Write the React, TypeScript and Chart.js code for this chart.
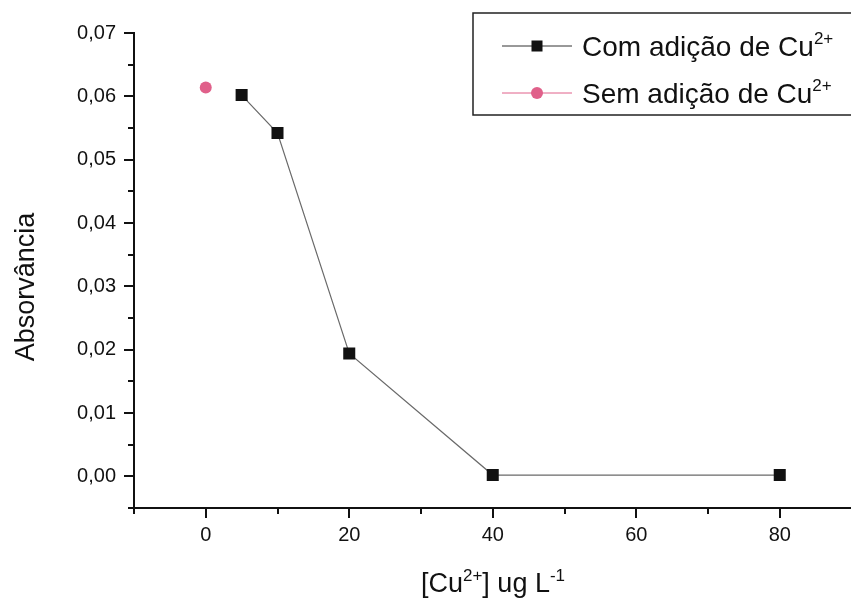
import React, { useEffect, useRef } from 'react';
import { Chart, registerables } from 'chart.js';
Chart.register(...registerables);

const concentrationsWith = [5, 10, 20, 40, 80];
const absorbanceWith = [0.0602, 0.0542, 0.0194, 0.0002, 0.0002];
const concentrationsWithout = [0];
const absorbanceWithout = [0.0614];
const xMajorTicks = [0, 20, 40, 60, 80];
const xMinorTicks = [-10, 10, 30, 50, 70, 90];
const yMajorTicks = [0, 0.01, 0.02, 0.03, 0.04, 0.05, 0.06, 0.07];
const yMinorTicks = [-0.005, 0.005, 0.015, 0.025, 0.035, 0.045, 0.055, 0.065];
const seriesLabels = ['Com adição de Cu', 'Sem adição de Cu'];
const seriesSup = '2+';
const yTitle = 'Absorvância';
const xTitleParts = [
  { t: '[Cu', s: false },
  { t: '2+', s: true },
  { t: '] ug L', s: false },
  { t: '-1', s: true },
];

const FONT = '"Liberation Sans", Arial, sans-serif';
const SQUARE_COLOR = '#111111';
const LINE_COLOR = '#6a6a6a';
const PINK = '#e0608a';

function drawRich(ctx: CanvasRenderingContext2D, parts: { t: string; s: boolean }[], x: number, y: number, size: number, align: 'left' | 'center') {
  const supSize = Math.round(size * 0.62);
  let total = 0;
  const widths = parts.map((p) => {
    ctx.font = `${p.s ? supSize : size}px ${FONT}`;
    const w = ctx.measureText(p.t).width;
    total += w;
    return w;
  });
  let cx = align === 'center' ? x - total / 2 : x;
  ctx.textAlign = 'left';
  ctx.textBaseline = 'alphabetic';
  parts.forEach((p, i) => {
    ctx.font = `${p.s ? supSize : size}px ${FONT}`;
    ctx.fillText(p.t, cx, p.s ? y - size * 0.42 : y);
    cx += widths[i];
  });
}

const decorPlugin = {
  id: 'decor',
  afterDraw(chart: any) {
    const ctx: CanvasRenderingContext2D = chart.ctx;
    const xs = chart.scales.x;
    const ys = chart.scales.y;
    const area = chart.chartArea;
    ctx.save();
    ctx.strokeStyle = '#111';
    ctx.lineWidth = 2;
    ctx.beginPath();
    yMajorTicks.forEach((v) => {
      const py = Math.round(ys.getPixelForValue(v));
      ctx.moveTo(area.left - 10, py);
      ctx.lineTo(area.left, py);
    });
    yMinorTicks.forEach((v) => {
      const py = Math.round(ys.getPixelForValue(v));
      ctx.moveTo(area.left - 6, py);
      ctx.lineTo(area.left, py);
    });
    xMajorTicks.forEach((v) => {
      const px = Math.round(xs.getPixelForValue(v));
      ctx.moveTo(px, area.bottom);
      ctx.lineTo(px, area.bottom + 10);
    });
    xMinorTicks.forEach((v) => {
      const px = Math.round(xs.getPixelForValue(v));
      ctx.moveTo(px, area.bottom);
      ctx.lineTo(px, area.bottom + 6);
    });
    ctx.stroke();

    ctx.fillStyle = '#111';
    // y title
    ctx.save();
    ctx.translate(27, 287);
    ctx.rotate(-Math.PI / 2);
    ctx.font = `27px ${FONT}`;
    ctx.textAlign = 'center';
    ctx.textBaseline = 'middle';
    ctx.fillText(yTitle, 0, 0);
    ctx.restore();

    // x title
    drawRich(ctx, xTitleParts, 493, 592, 27, 'center');

    // legend
    ctx.lineWidth = 1.5;
    ctx.strokeStyle = '#222';
    ctx.strokeRect(473, 13, 420, 102);
    const rows = [
      { y: 46, line: '#333', color: SQUARE_COLOR, style: 'rect' },
      { y: 93, line: PINK, color: PINK, style: 'circle' },
    ];
    rows.forEach((r, i) => {
      ctx.strokeStyle = r.line;
      ctx.lineWidth = 1;
      ctx.beginPath();
      ctx.moveTo(502, r.y);
      ctx.lineTo(572, r.y);
      ctx.stroke();
      ctx.fillStyle = r.color;
      if (r.style === 'rect') {
        ctx.fillRect(537 - 5.5, r.y - 5.5, 11, 11);
      } else {
        ctx.beginPath();
        ctx.arc(537, r.y, 6, 0, Math.PI * 2);
        ctx.fill();
      }
      ctx.fillStyle = '#111';
      drawRich(ctx, [{ t: seriesLabels[i], s: false }, { t: seriesSup, s: true }], 582, r.y + 10, 28, 'left');
    });
    ctx.restore();
  },
};

export default function App() {
  const ref = useRef<HTMLCanvasElement | null>(null);
  useEffect(() => {
    if (!ref.current) return;
    const chart = new Chart(ref.current, {
      type: 'line',
      data: {
        datasets: [
          {
            label: seriesLabels[0],
            data: concentrationsWith.map((x, i) => ({ x, y: absorbanceWith[i] })),
            borderColor: LINE_COLOR,
            borderWidth: 1.2,
            pointStyle: 'rect',
            pointRadius: 8.5,
            pointHoverRadius: 8.5,
            pointBackgroundColor: SQUARE_COLOR,
            pointBorderColor: SQUARE_COLOR,
            pointBorderWidth: 0,
            tension: 0,
          },
          {
            label: seriesLabels[1],
            data: concentrationsWithout.map((x, i) => ({ x, y: absorbanceWithout[i] })),
            borderColor: PINK,
            borderWidth: 1,
            pointStyle: 'circle',
            pointRadius: 6,
            pointHoverRadius: 6,
            pointBackgroundColor: PINK,
            pointBorderColor: PINK,
            pointBorderWidth: 0,
          },
        ],
      },
      options: {
        responsive: false,
        animation: false,
        devicePixelRatio: 1,
        layout: { padding: { top: 33, right: 0, left: 0, bottom: 0 } },
        plugins: { legend: { display: false }, tooltip: { enabled: false }, title: { display: false } },
        scales: {
          x: {
            type: 'linear',
            min: -10,
            max: 90,
            grid: { display: false },
            border: { display: true, color: '#111', width: 2 },
            afterBuildTicks: (s: any) => {
              s.ticks = xMajorTicks.map((v) => ({ value: v }));
            },
            afterFit: (s: any) => {
              s.height = 91;
            },
            ticks: {
              color: '#111',
              padding: 7,
              maxRotation: 0,
              font: { family: FONT, size: 20 },
              callback: (v: any) => String(v),
            },
          },
          y: {
            type: 'linear',
            min: -0.005,
            max: 0.07,
            grid: { display: false },
            border: { display: true, color: '#111', width: 2 },
            afterBuildTicks: (s: any) => {
              s.ticks = yMajorTicks.map((v) => ({ value: v }));
            },
            afterFit: (s: any) => {
              s.width = 134;
            },
            ticks: {
              color: '#111',
              padding: 10,
              font: { family: FONT, size: 20 },
              callback: (v: any) => Number(v).toFixed(2).replace('.', ','),
            },
          },
        },
      },
      plugins: [decorPlugin],
    } as any);
    return () => chart.destroy();
  }, []);
  return (
    <div style={{ position: 'fixed', left: 0, top: 0, width: 851, height: 599, overflow: 'hidden', background: '#fff' }}>
      <canvas ref={ref} width={860} height={599} style={{ display: 'block' }} />
    </div>
  );
}
